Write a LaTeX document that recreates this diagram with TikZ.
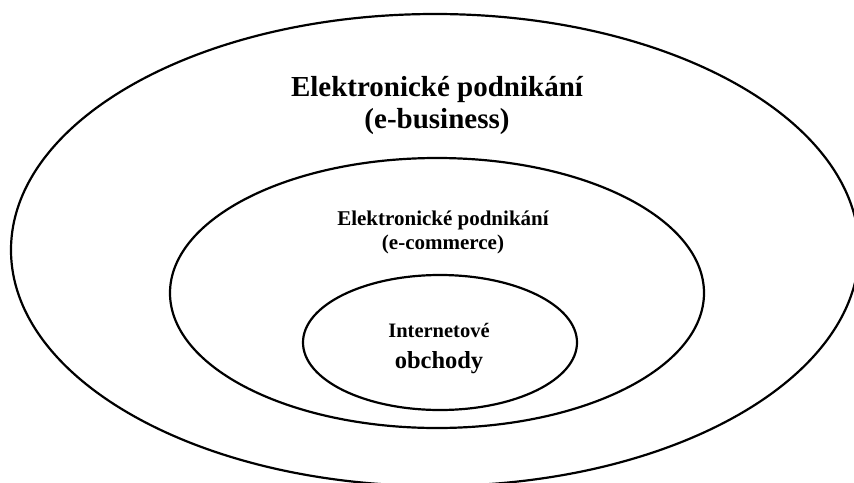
\documentclass[tikz,border=0pt]{standalone}
\usepackage{fontspec}
\setmainfont{Liberation Serif}
\usetikzlibrary{shapes.geometric}
\tikzset{
  ring/.style={draw=black, line width=2.2pt, ellipse, inner sep=0pt},
  lbl/.style={anchor=base, inner sep=0pt}
}
\begin{document}
\begin{tikzpicture}[x=1pt,y=-1pt]
\useasboundingbox (0,0) rectangle (854,482);
\clip (0,0) rectangle (854,482);
\fill[white] (0,0) rectangle (854,482);
\node[ring, minimum width=848pt, minimum height=472pt] (outer) at (435,250) {};
\node[ring, minimum width=534pt, minimum height=270pt] (middle) at (437,293) {};
\node[ring, minimum width=274pt, minimum height=135pt] (inner) at (440,342.5) {};
\node[lbl, font=\bfseries\fontsize{29}{32}\selectfont] (t1a) at (437,96) {Elektronické podnikání};
\node[lbl, font=\bfseries\fontsize{29}{32}\selectfont] (t1b) at (437,128) {(e-business)};
\node[lbl, font=\bfseries\fontsize{21}{25}\selectfont] (t2a) at (443,225) {Elektronické podnikání};
\node[lbl, font=\bfseries\fontsize{21}{25}\selectfont] (t2b) at (443,249) {(e-commerce)};
\node[lbl, font=\bfseries\fontsize{20.5}{25}\selectfont] (t3a) at (439,337) {Internetové};
\node[lbl, font=\bfseries\fontsize{24.5}{28}\selectfont] (t3b) at (439,368) {obchody};
\end{tikzpicture}
\end{document}
